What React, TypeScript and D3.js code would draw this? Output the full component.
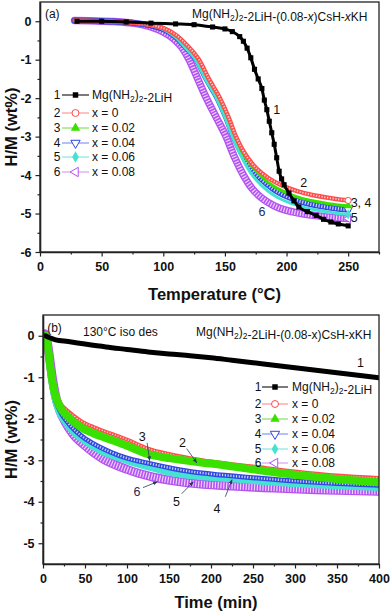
import { useEffect, useRef } from 'react';
import * as d3 from 'd3';

type Pt = [number, number];

const FONT = '"Liberation Sans", Arial, Helvetica, sans-serif';

// ---- panel (a): H/M vs temperature
const tempMajor = [0, 50, 100, 150, 200, 250];
const tempMinor = [25, 75, 125, 175, 225, 275];
const hmMajorA = [0, -1, -2, -3, -4, -5, -6];
const hmMinorA = [-0.5, -1.5, -2.5, -3.5, -4.5, -5.5];

const tpdPure: Pt[] = [
  [30, 0], [50, 0], [70, -0.02], [90, -0.05], [110, -0.07], [125, -0.09], [140, -0.15], [150, -0.2],
  [156, -0.27], [162, -0.4], [165, -0.52], [168, -0.7], [171, -0.95], [174, -1.25], [177, -1.5],
  [180, -1.75], [182, -2.05], [184, -2.3], [186, -2.6], [188, -2.9], [190, -3.2], [192, -3.55],
  [194, -3.9], [196, -4.1], [198, -4.25], [202, -4.47], [206, -4.67], [210, -4.83], [217, -4.95],
  [224, -5.05], [230, -5.15], [236, -5.22], [242, -5.27], [250, -5.32],
];
const tpdX000: Pt[] = [
  [28, 0.02], [40, 0.01], [60, -0.01], [75, -0.04], [90, -0.1], [100, -0.18], [110, -0.35], [120, -0.65],
  [129, -1.0], [137, -1.5], [146, -2.0], [153, -2.5], [159, -3.0], [165, -3.38], [172, -3.7], [180, -3.95],
  [190, -4.17], [200, -4.32], [210, -4.43], [220, -4.51], [230, -4.57], [240, -4.62], [250, -4.66],
];
const tpdX002: Pt[] = [
  [28, 0.02], [40, 0.01], [60, -0.01], [75, -0.04], [90, -0.1], [100, -0.19], [110, -0.37], [120, -0.67],
  [129, -1.02], [137, -1.53], [146, -2.05], [153, -2.55], [159, -3.05], [165, -3.45], [172, -3.78], [180, -4.05],
  [190, -4.3], [200, -4.46], [210, -4.58], [220, -4.66], [230, -4.72], [240, -4.77], [250, -4.8],
];
const tpdX004: Pt[] = [
  [28, 0.02], [40, 0.01], [60, -0.01], [75, -0.04], [90, -0.11], [100, -0.2], [110, -0.4], [119, -0.7],
  [127, -1.0], [135, -1.5], [144, -2.0], [151, -2.5], [157, -3.0], [164, -3.45], [172, -3.85], [180, -4.12],
  [190, -4.38], [200, -4.55], [210, -4.67], [220, -4.76], [230, -4.82], [240, -4.87], [250, -4.9],
];
const tpdX006: Pt[] = [
  [28, 0.02], [40, 0.01], [60, -0.01], [75, -0.04], [90, -0.11], [100, -0.21], [110, -0.42], [118, -0.7],
  [126, -1.0], [134, -1.5], [143, -2.0], [150, -2.5], [156, -3.0], [163, -3.5], [171, -3.95], [180, -4.28],
  [190, -4.53], [200, -4.69], [210, -4.8], [220, -4.88], [230, -4.94], [240, -4.99], [250, -5.02],
];
const tpdX008: Pt[] = [
  [28, 0.02], [40, 0.01], [60, -0.01], [75, -0.05], [90, -0.15], [100, -0.28], [110, -0.5], [115, -0.68],
  [121, -1.0], [128, -1.5], [135, -2.0], [143, -2.5], [151, -3.0], [158, -3.55], [165, -4.0], [172, -4.35],
  [180, -4.6], [190, -4.8], [200, -4.92], [210, -4.99], [220, -5.04], [230, -5.08], [240, -5.11], [250, -5.13],
];

// ---- panel (b): H/M vs time, 130 °C isothermal
const timeMajor = [0, 50, 100, 150, 200, 250, 300, 350, 400];
const timeMinor = [25, 75, 125, 175, 225, 275, 325, 375];
const hmMajorB = [0, -1, -2, -3, -4, -5];
const hmMinorB = [-0.5, -1.5, -2.5, -3.5, -4.5];

const isoPure: Pt[] = [
  [3, 0], [8, -0.05], [15, -0.1], [30, -0.14], [50, -0.2], [75, -0.27], [100, -0.33], [125, -0.39],
  [150, -0.44], [175, -0.48], [200, -0.53], [225, -0.59], [250, -0.65], [275, -0.71], [300, -0.77],
  [325, -0.83], [350, -0.89], [375, -0.95], [400, -1.01],
];
const isoX000: Pt[] = [
  [3, 0.02], [6, -0.3], [9, -0.75], [13, -1.25], [20, -1.6], [30, -1.82], [45, -2.05], [60, -2.2],
  [80, -2.35], [100, -2.5], [125, -2.72], [150, -2.85], [175, -2.95], [200, -3.03], [250, -3.15],
  [300, -3.27], [350, -3.37], [400, -3.43],
];
const isoX002: Pt[] = [
  [3, 0], [6, -0.3], [9, -0.8], [13, -1.3], [20, -1.7], [30, -1.95], [45, -2.2], [60, -2.35],
  [80, -2.5], [100, -2.65], [125, -2.85], [150, -2.95], [175, -3.02], [200, -3.08], [250, -3.22],
  [300, -3.35], [350, -3.45], [400, -3.53],
];
const isoX004: Pt[] = [
  [3, 0], [6, -0.35], [9, -0.9], [13, -1.4], [20, -1.8], [30, -2.1], [45, -2.4], [60, -2.6],
  [80, -2.8], [100, -2.95], [125, -3.07], [150, -3.18], [175, -3.27], [200, -3.33], [250, -3.42],
  [300, -3.5], [350, -3.56], [400, -3.6],
];
const isoX006: Pt[] = [
  [3, 0], [6, -0.4], [9, -0.95], [13, -1.45], [18, -1.8], [25, -2.05], [35, -2.3], [50, -2.55],
  [70, -2.8], [100, -3.02], [125, -3.17], [150, -3.3], [175, -3.38], [225, -3.46], [275, -3.54],
  [325, -3.6], [400, -3.67],
];
const isoX008: Pt[] = [
  [2, 0.05], [5, -0.15], [8, -0.55], [11, -1.0], [15, -1.45], [20, -1.8], [27, -2.1], [35, -2.35],
  [50, -2.65], [70, -2.95], [100, -3.22], [130, -3.4], [175, -3.55], [225, -3.62], [275, -3.67],
  [325, -3.71], [400, -3.75],
];

// ---- series meta
const seriesNums = ['1', '2', '3', '4', '5', '6'];
const seriesLabels = ['Mg(NH2)2-2LiH', 'x = 0', 'x = 0.02', 'x = 0.04', 'x = 0.06', 'x = 0.08'];
const seriesColors = ['#000000', '#ff4d4d', '#39e000', '#3048e0', '#44e2d2', '#b452f2'];
const legendLineColors = ['#222222', '#ff9595', '#86e060', '#8696f0', '#86eadf', '#d7a2f5'];
const seriesSymbols = ['square', 'circle', 'triangle', 'triangleDown', 'diamond', 'triangleLeft'];
const seriesHollow = [false, true, false, true, false, true];

// curve labels: [text, x, y] in data units; arrows [x1, y1, x2, y2]
const labelsA: [string, number, number][] = [
  ['1', 192, -2.31], ['2', 214, -4.21], ['3, 4', 252, -4.72], ['5', 255, -5.12], ['6', 180, -4.96],
];
const labelsB: [string, number, number][] = [
  ['1', 378, -0.65], ['2', 166, -2.58], ['3', 118, -2.43], ['4', 207, -4.17], ['5', 159, -4.0], ['6', 112, -3.76],
];
const arrowsB: [number, number, number, number][] = [
  [171, -2.72, 183, -3.06], [124, -2.58, 127, -3.01], [217, -3.88, 225, -3.47],
  [165, -3.81, 179, -3.52], [119, -3.66, 136, -3.52],
];

function symbolPath(kind: string, size: number) {
  const type = kind === 'square' ? d3.symbolSquare
    : kind === 'circle' ? d3.symbolCircle
    : kind === 'diamond' ? d3.symbolDiamond
    : d3.symbolTriangle;
  return d3.symbol().type(type).size(size)() as string;
}
function symbolRotate(kind: string) {
  if (kind === 'triangleDown') return 180;
  if (kind === 'triangleLeft') return -90;
  return 0;
}

function drawMarker(g: any, i: number, cx: number, cy: number, size: number) {
  const k = seriesSymbols[i];
  g.append('path')
    .attr('d', symbolPath(k, size))
    .attr('transform', `translate(${cx},${cy}) rotate(${symbolRotate(k)})`)
    .attr('fill', seriesHollow[i] ? '#fff' : seriesColors[i])
    .attr('stroke', seriesColors[i])
    .attr('stroke-width', seriesHollow[i] ? 1 : 0);
}

// chemical formula with subscripts and italic x
function chem(text: any, str: string, italicX: boolean, subSize: number) {
  const parts = str.split(/(\(NH2\)2|x)/).filter(s => s !== '');
  parts.forEach(p => {
    if (p === '(NH2)2') {
      text.append('tspan').text('(NH');
      text.append('tspan').attr('font-size', subSize).attr('dy', 3).text('2');
      text.append('tspan').attr('dy', -3).text(')');
      text.append('tspan').attr('font-size', subSize).attr('dy', 3).text('2');
      text.append('tspan').attr('dy', -3).text('');
    } else if (p === 'x' && italicX) {
      text.append('tspan').attr('font-style', 'italic').text('x');
    } else {
      text.append('tspan').text(p);
    }
  });
}

interface PanelOpts {
  left: number; right: number; top: number; bottom: number;
  xDomain: [number, number]; yDomain: [number, number];
  xMajor: number[]; xMinor: number[]; yMajor: number[]; yMinor: number[];
  series: Pt[][]; order: number[]; widths: number[];
  squares: boolean; endMarkers: boolean;
  xTitle: string; xTitleY: number; yTitleX: number;
  legendRows: number[]; legendNumX: number; legendLine: [number, number]; legendTextX: number;
  labels: [string, number, number][]; arrows: [number, number, number, number][];
}

function drawPanel(svg: any, p: PanelOpts) {
  const x = d3.scaleLinear().domain(p.xDomain).range([p.left, p.right]);
  const y = d3.scaleLinear().domain(p.yDomain).range([p.bottom, p.top]);
  const g = svg.append('g');

  const clipId = `clip${p.top}`;
  svg.append('defs').append('clipPath').attr('id', clipId)
    .append('rect').attr('x', p.left).attr('y', p.top).attr('width', p.right - p.left).attr('height', p.bottom - p.top);

  const plot = g.append('g').attr('clip-path', `url(#${clipId})`);
  const line = d3.line<Pt>().x(d => x(d[0])).y(d => y(d[1])).curve(d3.curveMonotoneX);

  p.order.forEach(i => {
    const data = p.series[i];
    const w = p.widths[i];
    plot.append('path').datum(data).attr('d', line)
      .attr('fill', 'none').attr('stroke', seriesColors[i]).attr('stroke-width', w)
      .attr('stroke-linejoin', 'round').attr('stroke-linecap', 'round');
    if (seriesHollow[i] && w > 3) {
      plot.append('path').datum(data).attr('d', line)
        .attr('fill', 'none').attr('stroke', '#fff').attr('stroke-opacity', 0.75)
        .attr('stroke-width', w - 2.6).attr('stroke-dasharray', '1.2 1.6');
    }
    if (i === 0 && p.squares) {
      data.forEach(d => drawMarker(plot, 0, x(d[0]), y(d[1]), 26));
    }
    if (i > 0 && p.endMarkers) {
      const d = data[data.length - 1];
      drawMarker(plot, i, x(d[0]), y(d[1]), 30);
    }
  });

  // frame
  g.append('rect').attr('x', p.left).attr('y', p.top)
    .attr('width', p.right - p.left).attr('height', p.bottom - p.top)
    .attr('fill', 'none').attr('stroke', '#222').attr('stroke-width', 1.3);

  const styleAxis = (ax: any) => {
    ax.select('.domain').attr('stroke', '#222').attr('stroke-width', 1.6);
    ax.selectAll('.tick line').attr('stroke', '#222').attr('stroke-width', 1.2);
    ax.selectAll('.tick text').attr('fill', '#111').attr('font-size', 12.5)
      .attr('font-weight', 'bold').attr('font-family', FONT);
  };

  g.append('g').attr('transform', `translate(0,${p.bottom})`)
    .call(d3.axisBottom(x).tickValues(p.xMinor).tickSize(2.5).tickSizeOuter(0).tickFormat(() => ''))
    .call((ax: any) => { ax.select('.domain').remove(); styleAxis(ax); });
  g.append('g').attr('transform', `translate(0,${p.bottom})`)
    .call(d3.axisBottom(x).tickValues(p.xMajor).tickSize(4.5).tickSizeOuter(0).tickPadding(6).tickFormat((d: any) => String(d)))
    .call(styleAxis);

  g.append('g').attr('transform', `translate(${p.left},0)`)
    .call(d3.axisLeft(y).tickValues(p.yMinor).tickSize(2.5).tickSizeOuter(0).tickFormat(() => ''))
    .call((ax: any) => { ax.select('.domain').remove(); styleAxis(ax); });
  g.append('g').attr('transform', `translate(${p.left},0)`)
    .call(d3.axisLeft(y).tickValues(p.yMajor).tickSize(4.5).tickSizeOuter(0).tickPadding(4).tickFormat((d: any) => String(d)))
    .call(styleAxis);

  // axis titles
  g.append('text').attr('x', (p.left + p.right) / 2 + 5).attr('y', p.xTitleY)
    .attr('text-anchor', 'middle').attr('font-family', FONT).attr('font-weight', 'bold')
    .attr('font-size', 16.5).attr('fill', '#111').text(p.xTitle);
  g.append('text')
    .attr('transform', `translate(${p.yTitleX},${(p.top + p.bottom) / 2}) rotate(-90)`)
    .attr('text-anchor', 'middle').attr('font-family', FONT).attr('font-weight', 'bold')
    .attr('font-size', 16.5).attr('fill', '#111').text('H/M (wt%)');

  // legend
  p.legendRows.forEach((ry, i) => {
    const lg = g.append('g').attr('font-family', FONT).attr('font-size', 12).attr('fill', '#111');
    lg.append('text').attr('x', p.legendNumX).attr('y', ry + 4.3).attr('text-anchor', 'middle').text(seriesNums[i]);
    lg.append('line').attr('x1', p.legendLine[0]).attr('x2', p.legendLine[1]).attr('y1', ry).attr('y2', ry)
      .attr('stroke', legendLineColors[i]).attr('stroke-width', 1.2);
    drawMarker(lg, i, (p.legendLine[0] + p.legendLine[1]) / 2, ry, i === 0 ? 30 : 38);
    const t = lg.append('text').attr('x', p.legendTextX).attr('y', ry + 4.3);
    chem(t, seriesLabels[i], false, 8.5);
  });

  // curve labels
  p.labels.forEach(([s, lx, ly]) => {
    g.append('text').attr('x', x(lx)).attr('y', y(ly) + 4.3)
      .attr('text-anchor', s.length > 1 ? 'start' : 'middle')
      .attr('font-family', FONT).attr('font-size', 12.5).attr('fill', s === '6' ? '#1d2b5e' : '#111').text(s);
  });
  p.arrows.forEach(([x1, y1, x2, y2]) => {
    g.append('line').attr('x1', x(x1)).attr('y1', y(y1)).attr('x2', x(x2)).attr('y2', y(y2))
      .attr('stroke', '#2b3a5c').attr('stroke-width', 0.8).attr('marker-end', 'url(#arrowHead)');
  });
  return { x, y };
}

export default function App() {
  const svgRef = useRef<SVGSVGElement>(null);

  useEffect(() => {
    const svg = d3.select(svgRef.current);
    svg.selectAll('*').remove();

    svg.append('defs').append('marker').attr('id', 'arrowHead')
      .attr('viewBox', '0 0 10 10').attr('refX', 9).attr('refY', 5)
      .attr('markerWidth', 6).attr('markerHeight', 6).attr('orient', 'auto')
      .append('path').attr('d', 'M0,1 L10,5 L0,9 Z').attr('fill', '#2b3a5c');

    // panel (a)
    const a = drawPanel(svg, {
      left: 40, right: 379, top: 2, bottom: 252,
      xDomain: [0, 275], yDomain: [-6, 0.5],
      xMajor: tempMajor, xMinor: tempMinor, yMajor: hmMajorA, yMinor: hmMinorA,
      series: [tpdPure, tpdX000, tpdX002, tpdX004, tpdX006, tpdX008],
      order: [5, 3, 4, 2, 1, 0], widths: [3, 4.5, 3, 6, 3, 7.5],
      squares: true, endMarkers: true,
      xTitle: 'Temperature (°C)', xTitleY: 300, yTitleX: 17,
      legendRows: [95, 113, 128, 143, 157, 172], legendNumX: 57, legendLine: [62, 89], legendTextX: 92,
      labels: labelsA, arrows: [],
    });
    svg.append('text').attr('x', a.x(4)).attr('y', 18).attr('font-family', FONT).attr('font-size', 12)
      .attr('fill', '#111').text('(a)');
    const ta = svg.append('text').attr('x', 192).attr('y', 18).attr('font-family', FONT)
      .attr('font-size', 12).attr('fill', '#111');
    chem(ta, 'Mg(NH2)2-2LiH-(0.08-x)CsH-xKH', true, 8.5);

    // panel (b)
    const b = drawPanel(svg, {
      left: 43, right: 379, top: 315, bottom: 564,
      xDomain: [0, 400], yDomain: [-5.5, 0.5],
      xMajor: timeMajor, xMinor: timeMinor, yMajor: hmMajorB, yMinor: hmMinorB,
      series: [isoPure, isoX000, isoX002, isoX004, isoX006, isoX008],
      order: [5, 4, 3, 1, 2, 0], widths: [5, 4, 8, 5, 6, 9],
      squares: false, endMarkers: false,
      xTitle: 'Time (min)', xTitleY: 608, yTitleX: 17,
      legendRows: [387, 404, 419, 434, 449, 463], legendNumX: 258, legendLine: [262, 288], legendTextX: 292,
      labels: labelsB, arrows: arrowsB,
    });
    svg.append('text').attr('x', b.x(5)).attr('y', 332).attr('font-family', FONT).attr('font-size', 12)
      .attr('fill', '#111').text('(b)');
    svg.append('text').attr('x', 83).attr('y', 336).attr('font-family', FONT).attr('font-size', 12)
      .attr('fill', '#111').text('130°C iso des');
    const tb = svg.append('text').attr('x', 196).attr('y', 336).attr('font-family', FONT)
      .attr('font-size', 12).attr('fill', '#111');
    chem(tb, 'Mg(NH2)2-2LiH-(0.08-x)CsH-xKH', false, 8.5);
  }, []);

  return (
    <div style={{ position: 'absolute', left: 0, top: 0, width: 392, height: 614, background: '#fff' }}>
      <svg ref={svgRef} width={392} height={614} style={{ display: 'block' }} />
    </div>
  );
}
